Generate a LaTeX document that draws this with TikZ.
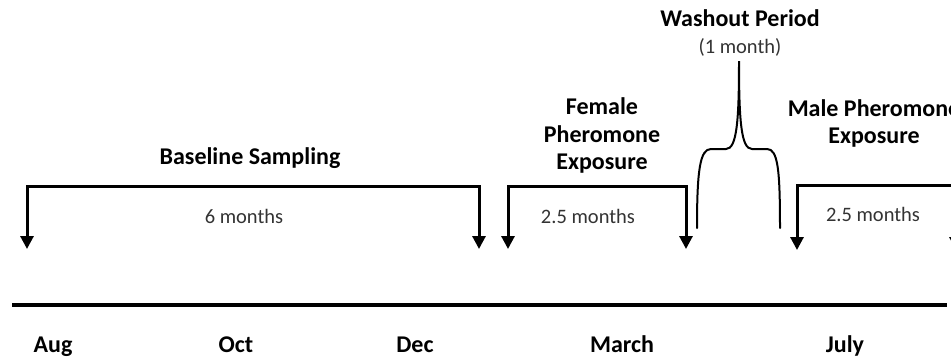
\documentclass[tikz,border=0pt]{standalone}
\usepackage{fontspec}
\setmainfont{Carlito}
\usetikzlibrary{arrows.meta}

\begin{document}
\begin{tikzpicture}[x=1pt,y=-1pt,
	 title/.style={font=\fontsize{24}{27.5}\selectfont\bfseries,align=center},
	 span/.style={font=\fontsize{20.5}{24}\selectfont,text=black!80},
	 month/.style={font=\fontsize{24}{28}\selectfont\bfseries,anchor=base},
	 bracket/.style={line width=3pt,{Triangle[width=13pt,length=13pt]}-{Triangle[width=13pt,length=13pt]}},
	 brace/.style={line width=2pt,line cap=round}]
	 \useasboundingbox (0,0) rectangle (951,360);
	 \clip (0,0) rectangle (951,360);
	 % titles
	 \node[title] (baseline) at (250,158) {Baseline Sampling};
	 \node[title] (female) at (602,135.5) {Female\\Pheromone\\Exposure};
	 \node[title] (washout) at (740,18) {Washout Period};
	 \node[span] (washlen) at (740,47) {(1 month)};
	 \node[title] (male) at (874,123.5) {Male Pheromone\\Exposure};
	 % durations
	 \node[span] (baselen) at (244,216) {6 months};
	 \node[span] (femlen) at (588,216) {2.5 months};
	 \node[span] (malelen) at (873,214) {2.5 months};
	 % brackets
	 \coordinate (base-l) at (27,249);
	 \coordinate (base-top) at (250,186);
	 \coordinate (base-r) at (479,249);
	 \coordinate (fem-l) at (508,249);
	 \coordinate (fem-top) at (597,186);
	 \coordinate (fem-r) at (686,249);
	 \coordinate (male-l) at (797,250);
	 \coordinate (male-top) at (876,185);
	 \coordinate (male-r) at (956,250);
	 \draw[bracket] (base-l) |- (base-top) -| (base-r);
	 \draw[bracket] (fem-l) |- (fem-top) -| (fem-r);
	 \draw[bracket] (male-l) |- (male-top) -| (male-r);
	 % washout brace
	 \coordinate (wash-l) at (697,228);
	 \coordinate (wash-top) at (739,61);
	 \coordinate (wash-r) at (780,228);
	 \draw[brace] (wash-l) .. controls (697,170) and (700,149) .. (711,149) -- (726,149)
	   .. controls (737,149) and (739,120) .. (wash-top)
	   .. controls (739,120) and (741,149) .. (752,149) -- (767,149)
	   .. controls (778,149) and (780,170) .. (wash-r);
	 % timeline
	 \coordinate (line-l) at (12,305);
	 \coordinate (line-r) at (947,305);
	 \draw[line width=3.5pt] (line-l) -- (line-r);
	 \node[month] (aug) at (53,352) {Aug};
	 \node[month] (oct) at (236,352) {Oct};
	 \node[month] (dec) at (415,352) {Dec};
	 \node[month] (march) at (622,352) {March};
	 \node[month] (july) at (845,352) {July};
\end{tikzpicture}
\end{document}
